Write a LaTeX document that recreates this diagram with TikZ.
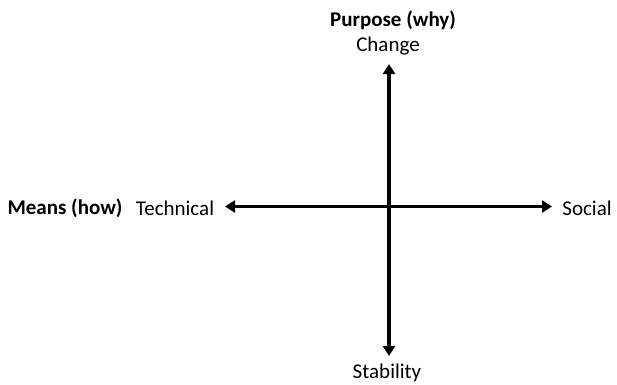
\documentclass[tikz,border=0pt]{standalone}
\usepackage{fontspec}
\setmainfont{Carlito}
\usetikzlibrary{arrows.meta}
\begin{document}
\begin{tikzpicture}[x=1pt,y=-1pt,
  lbl/.style={font=\fontsize{21}{25}\selectfont, inner sep=0pt},
  blbl/.style={font=\fontsize{21}{25}\selectfont\bfseries, inner sep=0pt},
  axis/.style={line width=3.2pt, {Triangle[length=10pt,width=12pt]}-{Triangle[length=10pt,width=12pt]}}]
\useasboundingbox[fill=white] (0,0) rectangle (617,384);
\coordinate (top) at (389,64);
\coordinate (bot) at (389,356);
\coordinate (left) at (225,206.5);
\coordinate (right) at (552,206.5);
\node[blbl] (purpose) at (393,20) {Purpose (why)};
\node[lbl] (change) at (388,46) {Change};
\node[lbl] (stability) at (387,373) {Stability};
\node[blbl] (means) at (65,208) {Means (how)};
\node[lbl] (technical) at (175,208) {Technical};
\node[lbl] (social) at (587,208) {Social};
\draw[axis] (top) -- (bot);
\draw[axis] (left) -- (right);
\end{tikzpicture}
\end{document}
